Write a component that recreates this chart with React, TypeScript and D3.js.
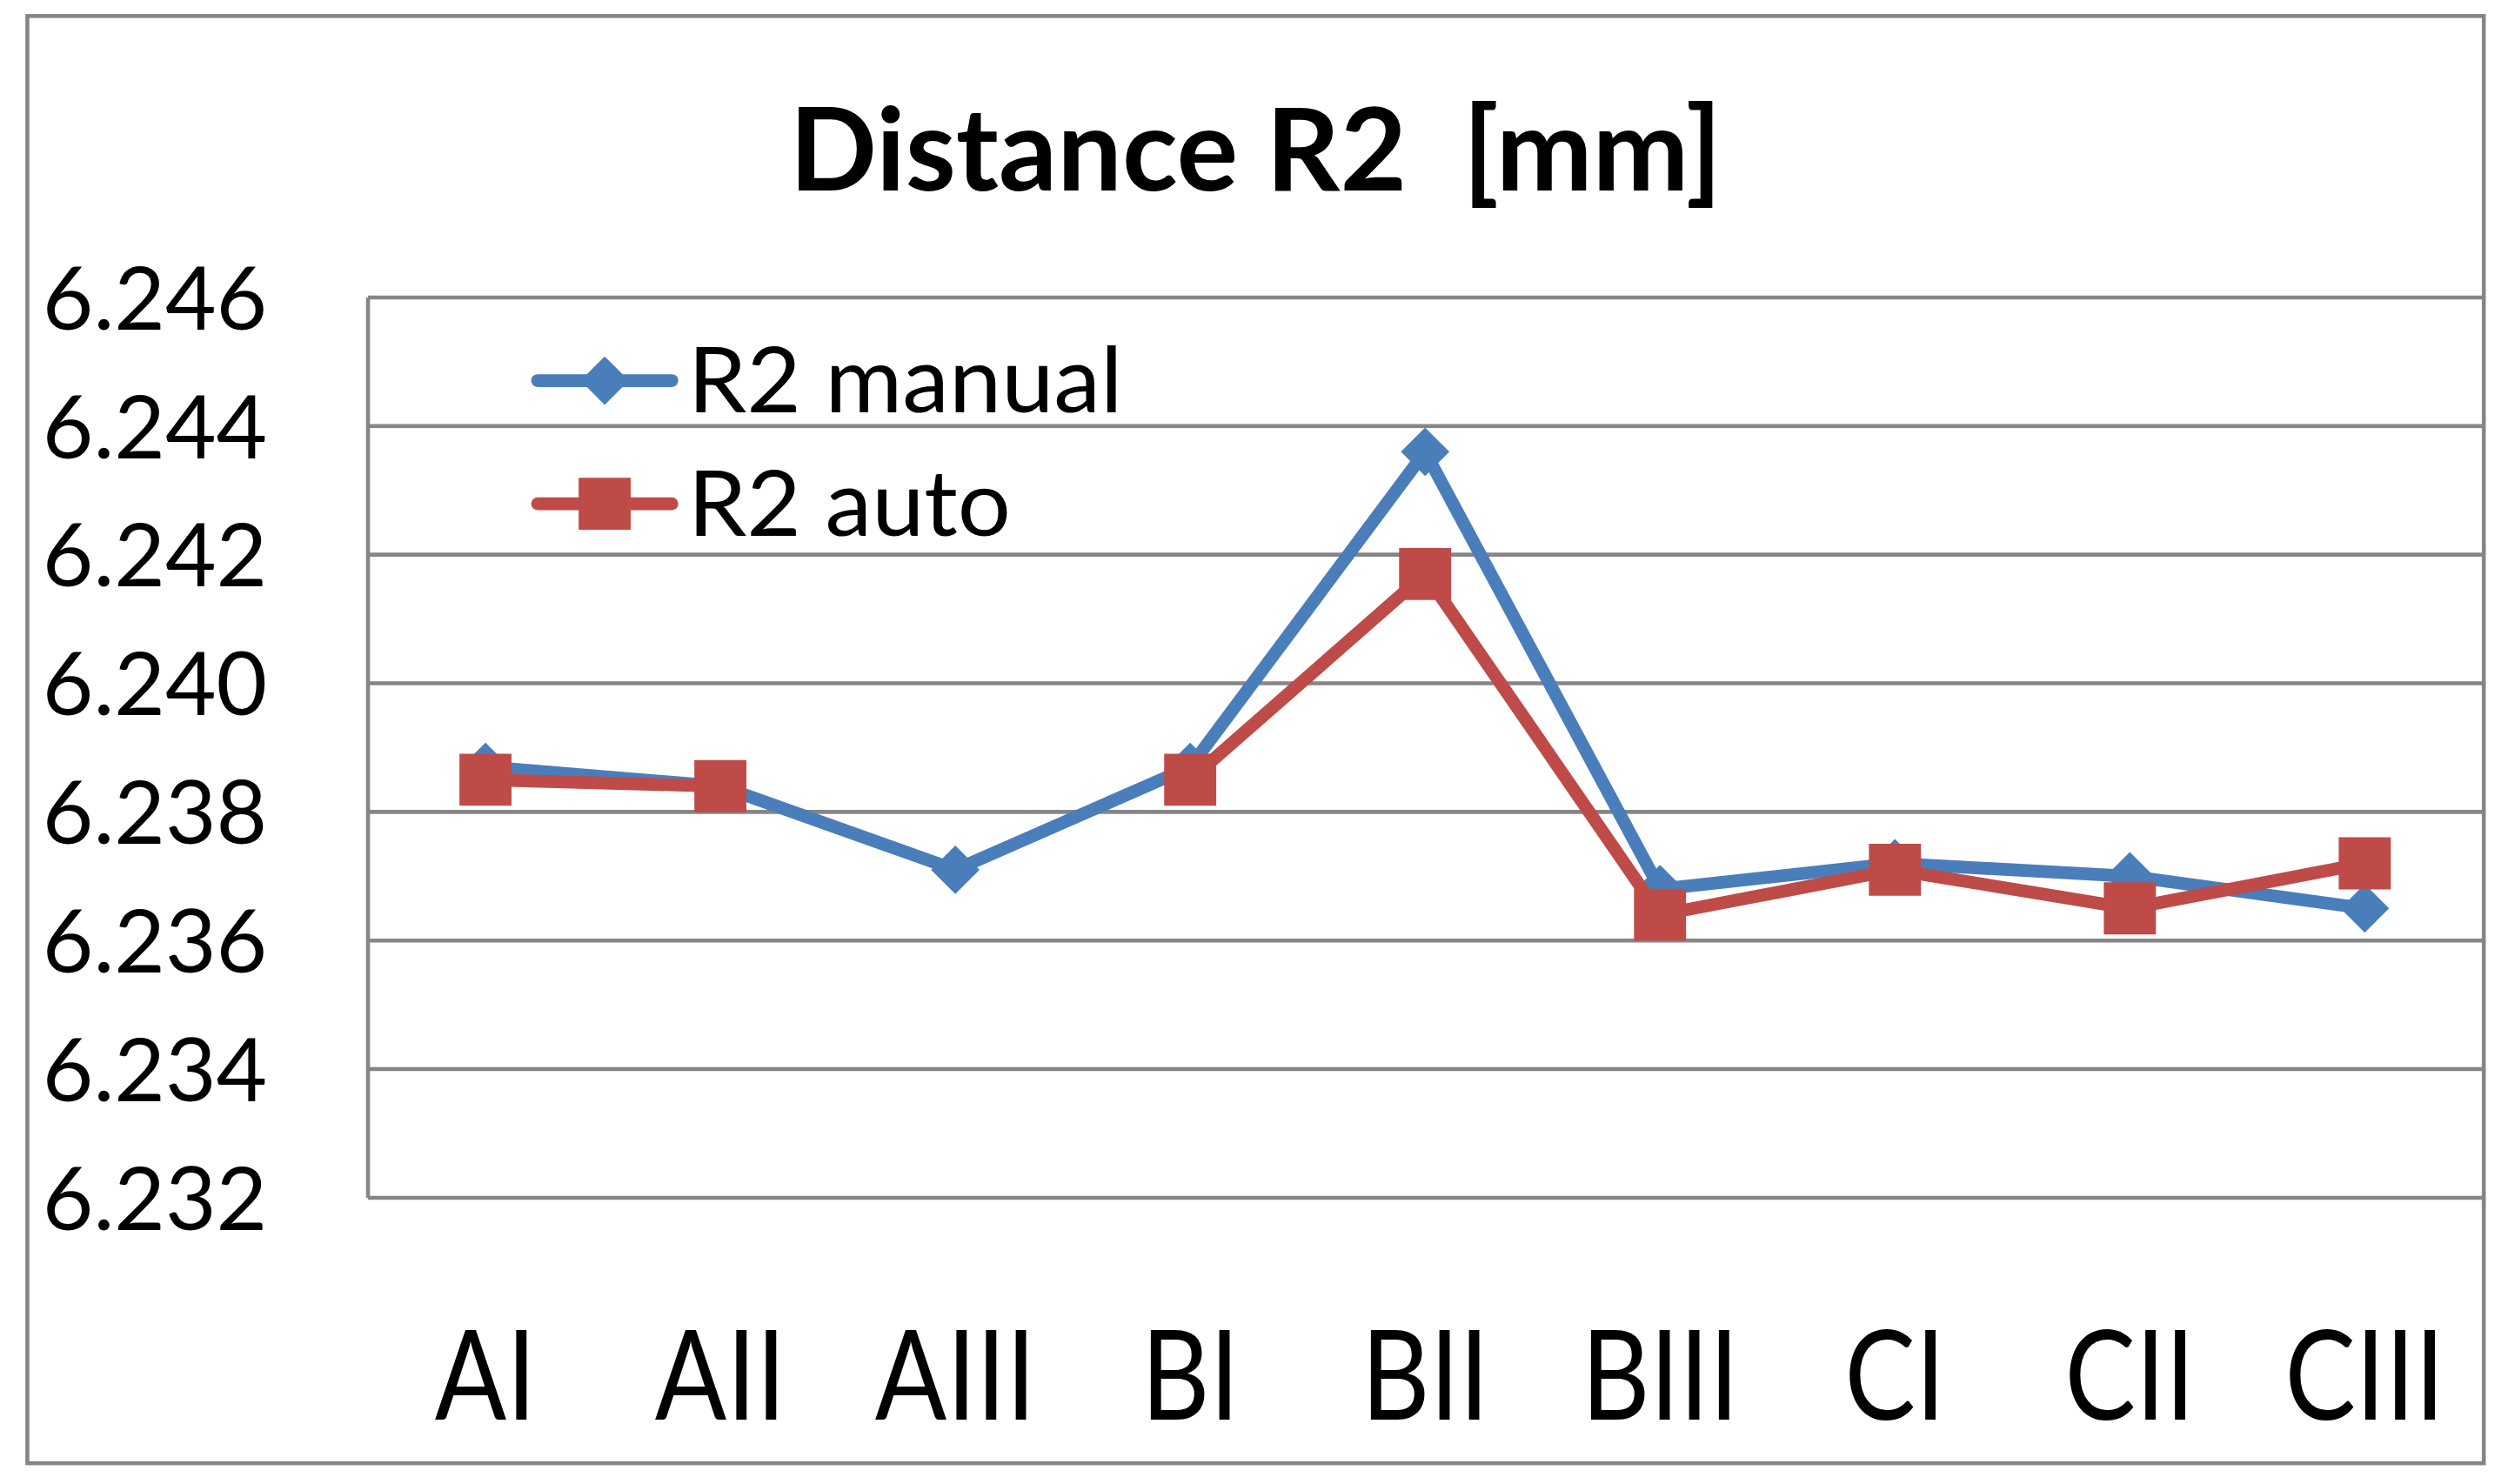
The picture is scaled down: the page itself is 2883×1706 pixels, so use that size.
import React from 'react'
import * as d3 from 'd3'

// categories and series
const categories = ['AI', 'AII', 'AIII', 'BI', 'BII', 'BIII', 'CI', 'CII', 'CIII']
const manualValues = [6.2387, 6.2384, 6.2371, 6.2387, 6.2436, 6.2368, 6.2372, 6.2370, 6.2365]
const autoValues: (number | null)[] = [6.2385, 6.2384, null, 6.2385, 6.2417, 6.2364, 6.2371, 6.2365, 6.2372]
const yTicks = [6.232, 6.234, 6.236, 6.238, 6.240, 6.242, 6.244, 6.246]
const seriesNames = ['R2 manual', 'R2 auto']
const title = 'Distance R2  [mm]'

const BLUE = '#4A7EBB'
const RED = '#BE4B48'
const GRID = '#868686'
const FONT = 'Lato, "Open Sans", sans-serif'

// drawing is done in a 1568 x 928 box, scaled up to the 2883 x 1706 page
const VW = 1568
const VH = 928

function App() {
  const left = 230
  const right = 1552
  const top = 186
  const bottom = 749

  const x = d3.scalePoint<string>().domain(categories).range([left, right]).padding(0.5)
  const y = d3.scaleLinear().domain([6.232, 6.246]).range([bottom, top])

  const line = d3
    .line<number | null>()
    .defined((d) => d != null)
    .x((_, i) => x(categories[i]) as number)
    .y((d) => y(d as number))

  const diamond = d3.symbol().type(d3.symbolSquare).size(460)()
  const square = d3.symbol().type(d3.symbolSquare).size(1060)()

  const diamondAt = (cx: number, cy: number, k: string) => (
    <path key={k} d={diamond as string} fill={BLUE} transform={`translate(${cx},${cy}) rotate(45)`} />
  )
  const squareAt = (cx: number, cy: number, k: string) => (
    <path key={k} d={square as string} fill={RED} transform={`translate(${cx},${cy})`} />
  )

  const legendRows = [
    { name: seriesNames[0], color: BLUE, y: 238, marker: diamondAt },
    { name: seriesNames[1], color: RED, y: 315, marker: squareAt },
  ]

  return (
    <svg
      width={2883}
      height={1706}
      viewBox={`0 0 ${VW} ${VH}`}
      style={{ position: 'absolute', left: 0, top: 0, background: '#fff' }}
    >
      <rect x={0} y={0} width={VW} height={VH} fill="#fff" />
      {/* chart frame */}
      <rect x={17} y={10} width={1536} height={905} fill="none" stroke={GRID} strokeWidth={2.5} />

      <text
        x={785}
        y={119}
        textAnchor="middle"
        fontFamily={FONT}
        fontWeight={700}
        fontSize={72}
        style={{ whiteSpace: 'pre' }}
      >
        {title}
      </text>

      {/* gridlines */}
      {yTicks.map((t) => (
        <line key={t} x1={left} x2={right} y1={y(t)} y2={y(t)} stroke={GRID} strokeWidth={2.5} />
      ))}
      <line x1={left} x2={left} y1={top} y2={bottom} stroke={GRID} strokeWidth={2.5} />

      {/* y tick labels */}
      {yTicks.map((t) => (
        <text key={t} x={167} y={y(t) + 20} textAnchor="end" fontFamily={FONT} fontSize={55}>
          {d3.format('.3f')(t)}
        </text>
      ))}

      {/* x labels */}
      {categories.map((c) => (
        <text
          key={c}
          transform={`translate(${x(c)},888) scale(0.85,1)`}
          textAnchor="middle"
          fontFamily={FONT}
          fontSize={78}
        >
          {c}
        </text>
      ))}

      {/* series */}
      <path d={line(manualValues) as string} fill="none" stroke={BLUE} strokeWidth={8} strokeLinejoin="round" />
      {manualValues.map((v, i) => diamondAt(x(categories[i]) as number, y(v), 'm' + i))}
      <path d={line(autoValues) as string} fill="none" stroke={RED} strokeWidth={8} strokeLinejoin="round" />
      {autoValues.map((v, i) => (v == null ? null : squareAt(x(categories[i]) as number, y(v), 'a' + i)))}

      {/* legend */}
      {legendRows.map((r) => (
        <g key={r.name}>
          <line x1={336} x2={420} y1={r.y} y2={r.y} stroke={r.color} strokeWidth={8} strokeLinecap="round" />
          {r.marker(378, r.y, 'l' + r.name)}
          <text x={430} y={r.y + 20} fontFamily={FONT} fontSize={57} transform={`translate(430,0) scale(1.03,1) translate(-430,0)`}>
            {r.name}
          </text>
        </g>
      ))}
    </svg>
  )
}

export default App
